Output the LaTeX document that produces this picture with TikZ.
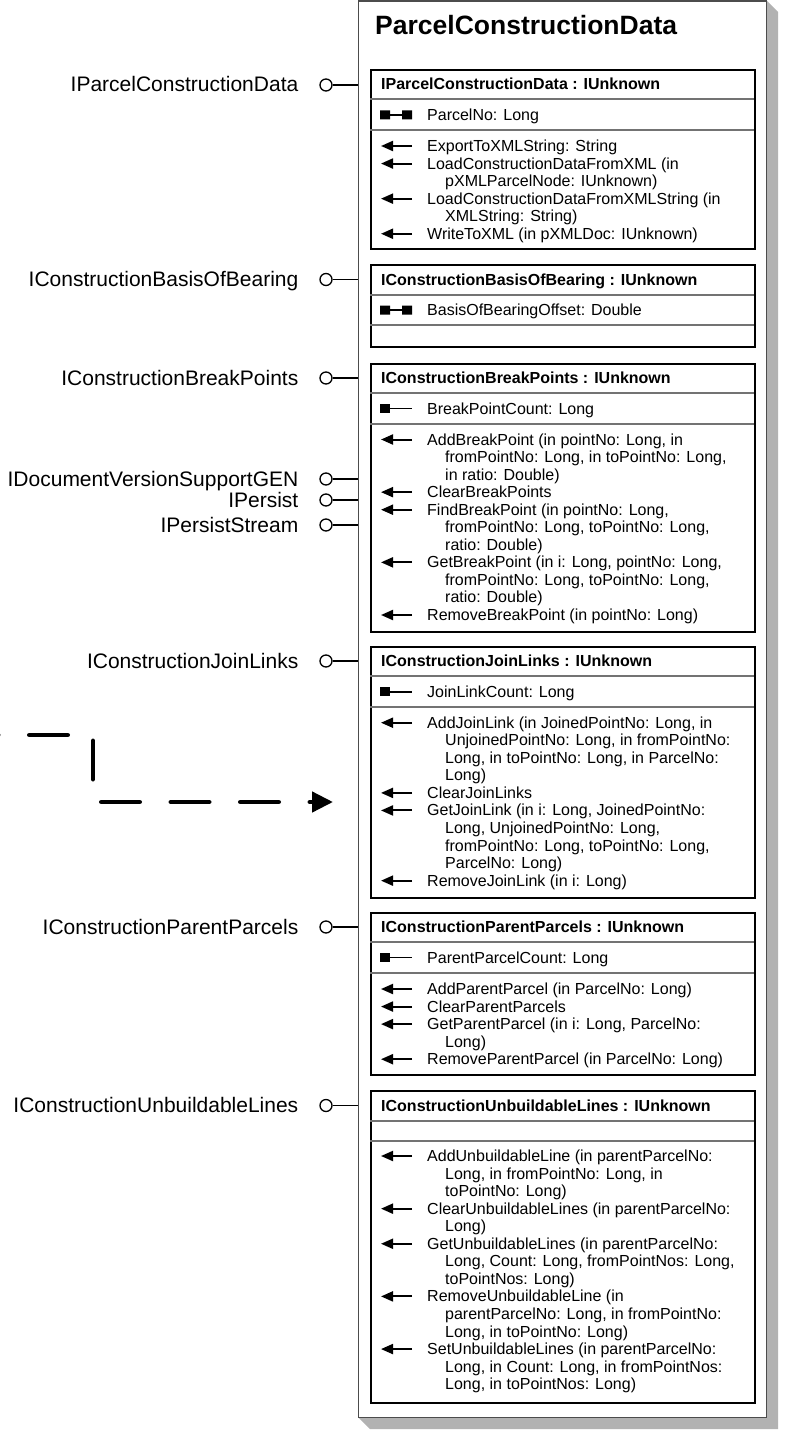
\documentclass[tikz,border=0pt]{standalone}
\usepackage{fontspec}
\setmainfont{Liberation Sans}
\usetikzlibrary{arrows.meta}

\newcommand{\methodlist}[3]{%
  \foreach [count=\k from 0] \flag/\txt in {#3}{%
    \pgfmathsetmacro{\yy}{#2+17.55*\k}
    \pgfmathsetmacro{\xx}{445-18*\flag}
    \node[mtext] (#1-\k) at (\xx,\yy+5.5) {\txt};
    \ifnum\flag=1\relax \draw[marrow] (412,\yy) -- (381,\yy); \fi
  }}

\begin{document}
\begin{tikzpicture}[x=1pt,y=-1pt,
  frame/.style={draw=black!70,line width=1.2pt,fill=white,inner sep=0pt,anchor=north west},
  ibox/.style={draw,line width=1.8pt,inner sep=0pt,anchor=north west,minimum width=384pt},
  sep/.style={draw=black!55,line width=1.1pt},
  ttl/.style={anchor=base west,inner sep=0pt,font=\fontsize{26.5}{30}\selectfont\bfseries},
  hdr/.style={anchor=base west,inner sep=0pt,font=\fontsize{16}{18}\selectfont\bfseries},
  mtext/.style={anchor=base west,inner sep=0pt,font=\fontsize{16}{18}\selectfont},
  lbl/.style={anchor=base east,inner sep=0pt,font=\fontsize{21}{24}\selectfont},
  lolly/.style={circle,draw,line width=1.3pt,fill=white,minimum size=12pt,inner sep=0pt},
  lline/.style={line width=1.3pt},
  marrow/.style={line width=2pt,-{Triangle[length=12pt,width=10pt]}},
  prop/.style={line width=1.8pt},
  dasharrow/.style={line width=4.5pt,line cap=round,dash pattern=on 38.5pt off 31pt,-{Triangle[length=21pt,width=20pt]}}]
\useasboundingbox (0,0) rectangle (785,1439);
\fill[black!30] (766,0)--(778,12)--(778,1429)--(370,1429)--(358,1417)--cycle;
\node[frame,minimum width=408pt,minimum height=1416.5pt] (frame) at (358,0.5) {};
\node[ttl] (title) at (375,35) {ParcelConstructionData};

\node[ibox,minimum height=179pt] (box1) at (370,69) {};
\node[ibox,minimum height=82pt] (box2) at (370,264) {};
\node[ibox,minimum height=268pt] (box3) at (370,363) {};
\node[ibox,minimum height=251pt] (box4) at (370,646) {};
\node[ibox,minimum height=162pt] (box5) at (370,912) {};
\node[ibox,minimum height=312pt] (box6) at (370,1090) {};
\draw[sep] (370,99)--(754,99) (370,130)--(754,130);
\draw[sep] (370,295)--(754,295) (370,325)--(754,325);
\draw[sep] (370,393)--(754,393) (370,424)--(754,424);
\draw[sep] (370,676)--(754,676) (370,707)--(754,707);
\draw[sep] (370,942)--(754,942) (370,973)--(754,973);
\draw[sep] (370,1121)--(754,1121) (370,1141)--(754,1141);

\node[hdr] (h1) at (381,89.5) {IParcelConstructionData : IUnknown};
\node[hdr] (h2) at (381,285) {IConstructionBasisOfBearing : IUnknown};
\node[hdr] (h3) at (381,383.5) {IConstructionBreakPoints : IUnknown};
\node[hdr] (h4) at (381,666.5) {IConstructionJoinLinks : IUnknown};
\node[hdr] (h5) at (381,932.5) {IConstructionParentParcels : IUnknown};
\node[hdr] (h6) at (381,1111) {IConstructionUnbuildableLines : IUnknown};

% properties
\foreach \y in {115,310}{
  \fill (380,\y-4.5) rectangle (390,\y+4.5) (402,\y-4.5) rectangle (412,\y+4.5);
  \draw[prop] (390,\y)--(402,\y);}
\foreach \y in {408.5,691.7,957.5}{
  \fill (380,\y-4.5) rectangle (390,\y+4.5);
  \draw[prop] (390,\y)--(412,\y);}
\node[mtext] (a1) at (427,120.5) {ParcelNo: Long};
\node[mtext] (a2) at (427,315.5) {BasisOfBearingOffset: Double};
\node[mtext] (a3) at (427,414) {BreakPointCount: Long};
\node[mtext] (a4) at (427,697.2) {JoinLinkCount: Long};
\node[mtext] (a5) at (427,963) {ParentParcelCount: Long};

% methods
\methodlist{m1}{146}{1/{ExportToXMLString: String},
  1/{LoadConstructionDataFromXML (in},
  0/{pXMLParcelNode: IUnknown)},
  1/{LoadConstructionDataFromXMLString (in},
  0/{XMLString: String)},
  1/{WriteToXML (in pXMLDoc: IUnknown)}}
\methodlist{m3}{439.5}{1/{AddBreakPoint (in pointNo: Long, in},
  0/{fromPointNo: Long, in toPointNo: Long,},
  0/{in ratio: Double)},
  1/{ClearBreakPoints},
  1/{FindBreakPoint (in pointNo: Long,},
  0/{fromPointNo: Long, toPointNo: Long,},
  0/{ratio: Double)},
  1/{GetBreakPoint (in i: Long, pointNo: Long,},
  0/{fromPointNo: Long, toPointNo: Long,},
  0/{ratio: Double)},
  1/{RemoveBreakPoint (in pointNo: Long)}}
\methodlist{m4}{722.7}{1/{AddJoinLink (in JoinedPointNo: Long, in},
  0/{UnjoinedPointNo: Long, in fromPointNo:},
  0/{Long, in toPointNo: Long, in ParcelNo:},
  0/{Long)},
  1/{ClearJoinLinks},
  1/{GetJoinLink (in i: Long, JoinedPointNo:},
  0/{Long, UnjoinedPointNo: Long,},
  0/{fromPointNo: Long, toPointNo: Long,},
  0/{ParcelNo: Long)},
  1/{RemoveJoinLink (in i: Long)}}
\methodlist{m5}{989}{1/{AddParentParcel (in ParcelNo: Long)},
  1/{ClearParentParcels},
  1/{GetParentParcel (in i: Long, ParcelNo:},
  0/{Long)},
  1/{RemoveParentParcel (in ParcelNo: Long)}}
\methodlist{m6}{1156}{1/{AddUnbuildableLine (in parentParcelNo:},
  0/{Long, in fromPointNo: Long, in},
  0/{toPointNo: Long)},
  1/{ClearUnbuildableLines (in parentParcelNo:},
  0/{Long)},
  1/{GetUnbuildableLines (in parentParcelNo:},
  0/{Long, Count: Long, fromPointNos: Long,},
  0/{toPointNos: Long)},
  1/{RemoveUnbuildableLine (in},
  0/{parentParcelNo: Long, in fromPointNo:},
  0/{Long, in toPointNo: Long)},
  1/{SetUnbuildableLines (in parentParcelNo:},
  0/{Long, in Count: Long, in fromPointNos:},
  0/{Long, in toPointNos: Long)}}

% interfaces
\foreach \n/\y/\t in {1/85/IParcelConstructionData,2/279.5/IConstructionBasisOfBearing,
  3/378/IConstructionBreakPoints,4/479/IDocumentVersionSupportGEN,5/500/IPersist,
  6/525/IPersistStream,7/661/IConstructionJoinLinks,8/927/IConstructionParentParcels,
  9/1105.5/IConstructionUnbuildableLines}{
  \node[lolly] (p\n) at (326,\y) {};
  \node[lbl] (l\n) at (298.5,\y+7) {\t};
  \draw[lline] (p\n) -- (p\n -| frame.west);}

\coordinate (dstart) at (-40.25,735);
\coordinate (dbend) at (93,735);
\coordinate (dtip) at (333,802);
\draw[dasharrow] (dstart) -- (dbend) -- (dbend |- dtip) -- (dtip);
\end{tikzpicture}
\end{document}
